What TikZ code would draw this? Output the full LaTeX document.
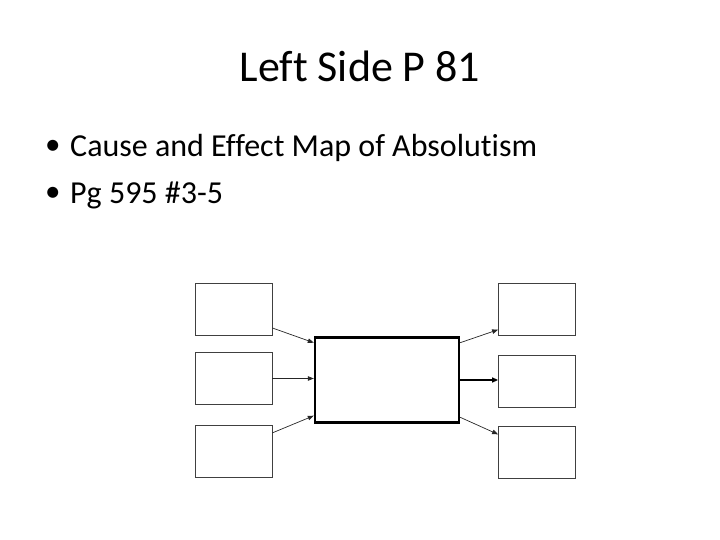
\documentclass[tikz,border=0pt]{standalone}
\usepackage{fontspec}
\setmainfont{Carlito}[Ligatures=CommonOff]
\usetikzlibrary{arrows.meta, positioning}

\newcommand{\slidebullet}{\makebox[25pt][l]{\raisebox{2pt}{\fontsize{31}{34}\selectfont\textbullet}}}

\begin{document}
\begin{tikzpicture}[
  x=1pt, y=-1pt,
  box/.style={draw=black!75, line width=0.8pt, minimum width=77pt, minimum height=52pt, inner sep=0pt},
  centre/.style={draw=black, line width=2.4pt, minimum width=144pt, minimum height=85pt, inner sep=0pt},
  arrow/.style={-{Triangle[length=6pt, width=4.5pt]}, line width=0.7pt, black!85},
  bigarrow/.style={-{Triangle[length=6pt, width=5pt]}, line width=1.4pt},
  bullet/.style={anchor=base west, inner sep=0pt, font=\fontsize{32}{38}\selectfont}
]
\useasboundingbox (0,0) rectangle (720,540);

% Title and bullet points
\node[anchor=base, font=\fontsize{44}{52}\selectfont] (title) at (360,82) {Left Side P 81};
\node[bullet] (b1) at (45,157) {\slidebullet Cause and Effect Map of Absolutism};
\node[bullet] (b2) at (45,204) {\slidebullet Pg 595 \#3-5};

% Central box
\node[centre] (main) at (387,380) {};

% Causes
\node[box] (c1) at (233.5,309) {};
\node[box] (c2) at (233.5,378.5) {};
\node[box] (c3) at (233.5,451) {};

% Effects
\node[box] (e1) at (537,309) {};
\node[box] (e2) at (537,381.5) {};
\node[box] (e3) at (537,452.5) {};

% Causes -> centre
\draw[arrow] (c1.-26) -- (main.153);
\draw[arrow] (c2.east) -- (c2.east -| main.west);
\draw[arrow] (c3.25) -- (main.-154);

% Centre -> effects
\draw[arrow] (main.27) -- (e1.-152);
\draw[bigarrow] (main.east) -- (main.east -| e2.west);
\draw[arrow] (main.-27) -- (e3.155);

\end{tikzpicture}
\end{document}
